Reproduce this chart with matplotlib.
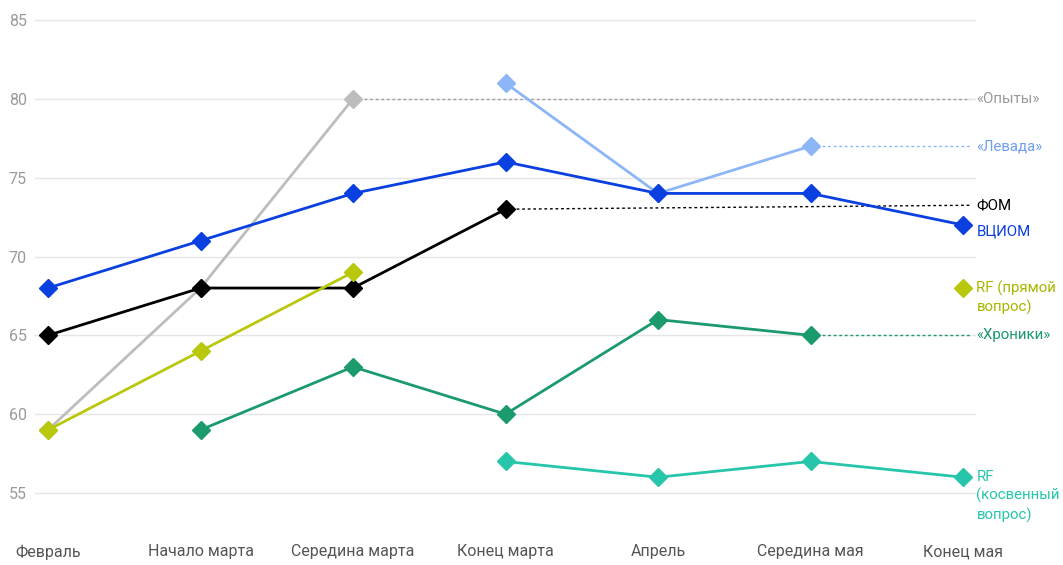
import numpy as np
import matplotlib.pyplot as plt

plt.rcParams['font.family'] = ['Roboto', 'DejaVu Sans']

periods = ['Февраль', 'Начало марта', 'Середина марта', 'Конец марта',
           'Апрель', 'Середина мая', 'Конец мая']
nan = np.nan
opyty = [59, 68, 80, nan, nan, nan, nan]
levada = [nan, nan, nan, 81, 74, 77, nan]
vciom = [68, 71, 74, 76, 74, 74, 72]
fom = [65, 68, 68, 73, nan, nan, nan]
rf_direct = [59, 64, 69, nan, nan, nan, 68]
hroniki = [nan, 59, 63, 60, 66, 65, nan]
rf_indirect = [nan, nan, nan, 57, 56, 57, 56]

# name, values, line colour, label colour, label y, dotted leader to the edge
series = [
    ('«Опыты»', opyty, '#bdbdbd', '#9a9a9a', 80, True),
    ('«Левада»', levada, '#8cb6f7', '#6f9ff0', 77, True),
    ('ФОМ', fom, '#000000', '#000000', 73.25, True),
    ('ВЦИОМ', vciom, '#0a3fe0', '#0a3fe0', 71.6, False),
    ('RF (прямой\nвопрос)', rf_direct, '#b8c80c', '#a8b600', 68, False),
    ('«Хроники»', hroniki, '#1b9a6c', '#1b9a6c', 65, True),
    ('RF\n(косвенный\nвопрос)', rf_indirect, '#27c5aa', '#27c5aa', 56, False),
]

fig = plt.figure(figsize=(10.63, 5.65), dpi=100)
ax = fig.add_axes([35 / 1063, 72 / 565, 940 / 1063, 473 / 565])
x = np.arange(len(periods))
xmax = 6 + 12 / 152.5
ax.set_xlim(-13 / 152.5, xmax)
ax.set_ylim(55, 85)

for name, vals, col, tcol, ly, dotted in series:
    v = np.array(vals, dtype=float)
    if name.startswith('RF (прямой'):
        ax.plot(x[:3], v[:3], color=col, lw=2, marker='D', ms=9, zorder=3)
        ax.plot(x[6], v[6], color=col, marker='D', ms=9, zorder=3, clip_on=False)
    else:
        ax.plot(x, v, color=col, lw=2, marker='D', ms=9, zorder=3, clip_on=False)
    if dotted:
        last = np.where(~np.isnan(v))[0][-1]
        ax.plot([x[last], xmax - 0.03], [v[last], ly], color=col if col != '#bdbdbd' else '#a0a0a0',
                lw=1, ls=(0, (2, 2)), zorder=2, clip_on=False)
    va = 'top' if '\n' in name else 'center'
    off = 5.5 if '\n' in name else 0
    ax.annotate(name, (xmax, ly), xytext=(1, off), textcoords='offset points',
                ha='left', va=va, color=tcol, fontsize=10.8, linespacing=1.35,
                annotation_clip=False)

ax.set_yticks([55, 60, 65, 70, 75, 80, 85])
ax.set_xticks(x)
ax.set_xticklabels(periods)
ax.grid(axis='y', color='#e5e5e5', lw=1)
for gl in ax.get_ygridlines():
    gl.set_clip_on(False)
ax.set_axisbelow(True)
for s in ax.spines.values():
    s.set_visible(False)
ax.tick_params(axis='y', length=0, pad=6, labelsize=11.5, labelcolor='#9a9a9a')
ax.tick_params(axis='x', length=0, pad=37, labelsize=11.5, labelcolor='#555555')

fig.savefig('out.png', dpi=100)
